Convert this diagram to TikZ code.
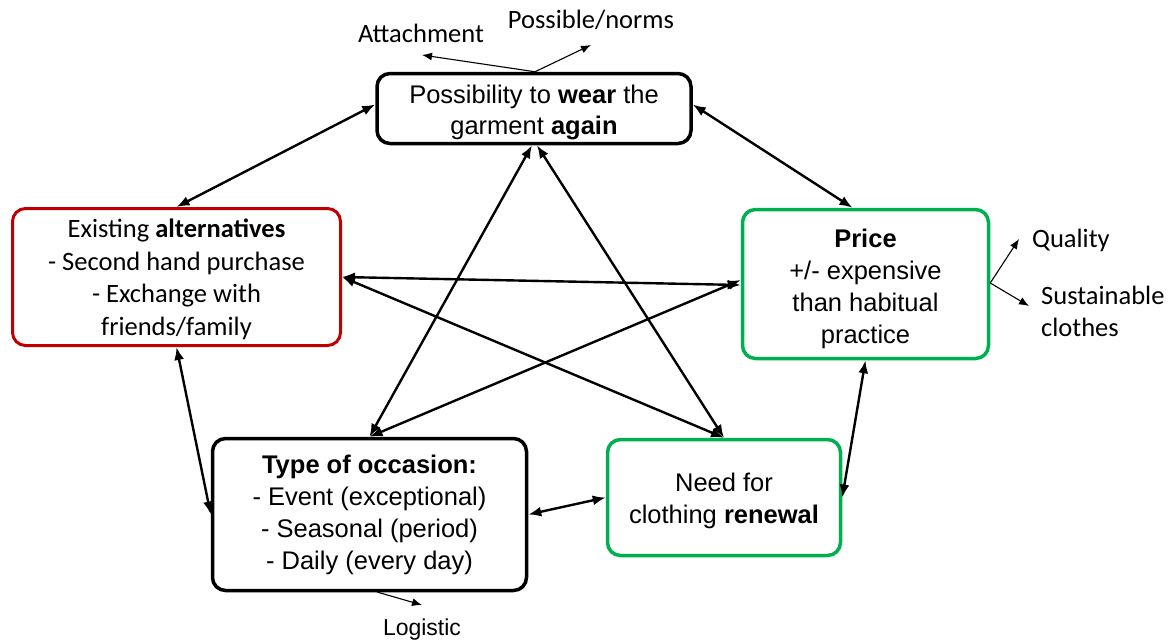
\documentclass[tikz,border=0pt]{standalone}
\usepackage{fontspec}
\setmainfont{Liberation Sans}
\newfontfamily\carlitofam{Carlito}
\usetikzlibrary{arrows.meta}
\definecolor{boxred}{RGB}{192,0,0}
\definecolor{boxgreen}{RGB}{0,176,80}
\begin{document}
\begin{tikzpicture}[x=1pt,y=-1pt,
  box/.style={draw, rounded corners=13pt, line width=3.5pt, align=center, inner sep=0pt, font=\fontsize{25.5}{32}\selectfont},
  link/.style={line width=2.4pt, {Latex[length=13pt,width=10pt]}-{Latex[length=13pt,width=10pt]}},
  thin/.style={line width=1.1pt, -{Latex[length=10pt,width=8pt]}},
  lab/.style={font=\carlitofam\fontsize{26.5}{30}\selectfont, inner sep=0pt}]
\useasboundingbox (0,0) rectangle (1171,643);
\node[box, minimum width=314pt, minimum height=70pt, font=\fontsize{25.5}{31}\selectfont] (top) at (534,108.5) {\rule{0pt}{27pt}Possibility to \textbf{wear} the\\garment \textbf{again}};
\node[box, draw=boxred, line width=3pt, minimum width=328pt, minimum height=137pt, font=\carlitofam\fontsize{26.5}{32.5}\selectfont] (alt) at (176.5,277) {\rule{0pt}{23pt}Existing \textbf{alternatives}\\- Second hand purchase\\- Exchange with\\friends/family};
\node[box, draw=boxgreen, minimum width=246pt, minimum height=149pt] (price) at (865.5,284) {\rule{0pt}{28.5pt}\textbf{Price}\\+/- expensive\\than habitual\\practice};
\node[box, minimum width=314pt, minimum height=152pt] (type) at (369.5,514.5) {\textbf{Type of occasion:}\\- Event (exceptional)\\- Seasonal (period)\\- Daily (every day)};
\node[box, draw=boxgreen, minimum width=233pt, minimum height=116pt] (need) at (724,497.5) {\rule{0pt}{25pt}Need for\\clothing \textbf{renewal}};

\draw[link] (alt.north) -- ([yshift=4pt]top.west);
\draw[link] ([yshift=4pt]top.east) -- ([xshift=-13pt]price.north);
\draw[link] ([xshift=-2pt]top.south) -- (type.north);
\draw[link] ([xshift=3pt]top.south) -- (need.north);
\draw[link] (alt.east) -- ([yshift=-1pt]price.west);
\draw[link] (alt.east) -- (need.north);
\draw[link] (type.north) -- ([yshift=4pt]price.west);
\draw[link] (alt.south) -- (type.west);
\draw[link] (type.east) -- (need.west);
\draw[link] (price.south) -- (need.east);

\coordinate (t0) at ([xshift=1pt]top.north);
\coordinate (attE) at (422,55);
\coordinate (posE) at (591,45);
\draw[thin] (t0) -- (attE);
\draw[thin] (t0) -- (posE);
\node[lab] (att) at (421,33) {Attachment};
\node[lab] (pos) at (591,20) {Possible/norms};

\coordinate (p0) at ([yshift=1pt]price.east);
\coordinate (qE) at (1019,239);
\coordinate (sE) at (1029,306);
\draw[thin] (p0) -- (qE);
\draw[thin] (p0) -- (sE);
\node[lab, anchor=west] (qual) at (1032,240) {Quality};
\node[lab, anchor=west, align=left, font=\carlitofam\fontsize{26.5}{32}\selectfont] (sust) at (1041,311) {Sustainable\\clothes};

\coordinate (y0) at (377,592);
\coordinate (lE) at (422,605);
\draw[thin] (y0) -- (lE);
\node[inner sep=0pt, font=\fontsize{23}{26}\selectfont] (log) at (422,630) {Logistic};
\end{tikzpicture}
\end{document}
